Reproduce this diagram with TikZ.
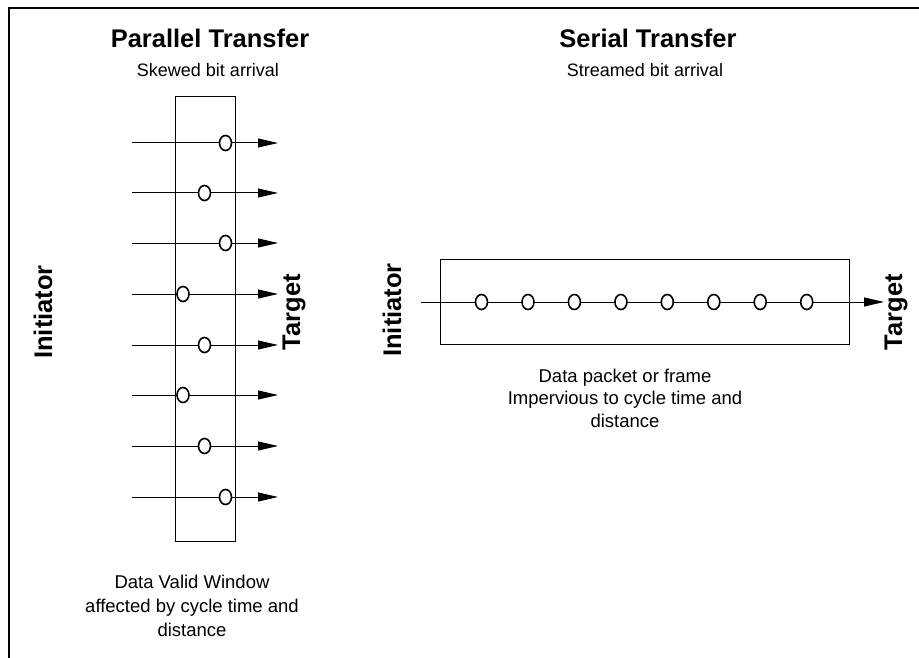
\documentclass[tikz,border=0pt]{standalone}
\usepackage{fontspec}
\setmainfont{Liberation Sans}
\usetikzlibrary{shapes.geometric, arrows.meta, positioning}

\begin{document}
\begin{tikzpicture}[x=1pt, y=-1pt, >={Triangle[length=20pt, width=9pt]},
  sigline/.style = {->, line width=1pt},
  bitdot/.style  = {draw, ellipse, fill=white, line width=1.6pt,
                    minimum width=12pt, minimum height=15pt, inner sep=0pt},
  winbox/.style  = {draw, line width=1pt, inner sep=0pt},
  ttl/.style     = {font=\fontsize{25.5}{30}\selectfont\bfseries, anchor=base},
  sub/.style     = {font=\fontsize{18}{22}\selectfont, anchor=base},
  side/.style    = {font=\fontsize{25.5}{30}\selectfont\bfseries, rotate=90},
  note/.style    = {align=center, anchor=north, inner sep=0pt}
]
  \useasboundingbox (0,0) rectangle (919,658);
  \draw[line width=1.3pt] (9,658) -- (9,8) -- (919,8);

  %% Parallel side
  \node[ttl] (ptitle) at (210,48) {Parallel Transfer};
  \node[sub] (psub)   at (208,77) {Skewed bit arrival};
  \node[winbox, minimum width=60pt, minimum height=444pt] (pwin) at (205,319) {};

  \coordinate (p1a) at (132,143); \coordinate (p1b) at (278,143);
  \coordinate (p2a) at (132,193); \coordinate (p2b) at (278,193);
  \coordinate (p3a) at (132,243); \coordinate (p3b) at (278,243);
  \coordinate (p4a) at (132,294); \coordinate (p4b) at (278,294);
  \coordinate (p5a) at (132,345); \coordinate (p5b) at (278,345);
  \coordinate (p6a) at (132,395); \coordinate (p6b) at (278,395);
  \coordinate (p7a) at (132,446); \coordinate (p7b) at (278,446);
  \coordinate (p8a) at (132,497); \coordinate (p8b) at (278,497);
  \draw[sigline] (p1a) -- (p1b);
  \draw[sigline] (p2a) -- (p2b);
  \draw[sigline] (p3a) -- (p3b);
  \draw[sigline] (p4a) -- (p4b);
  \draw[sigline] (p5a) -- (p5b);
  \draw[sigline] (p6a) -- (p6b);
  \draw[sigline] (p7a) -- (p7b);
  \draw[sigline] (p8a) -- (p8b);

  \node[bitdot] (pb1) at (225.5,143) {};
  \node[bitdot] (pb2) at (204.5,193) {};
  \node[bitdot] (pb3) at (225.5,243) {};
  \node[bitdot] (pb4) at (183,294)   {};
  \node[bitdot] (pb5) at (204.5,345) {};
  \node[bitdot] (pb6) at (183,395)   {};
  \node[bitdot] (pb7) at (204.5,446) {};
  \node[bitdot] (pb8) at (225.5,497) {};

  \node[side] (pinit) at (43,312)  {Initiator};
  \node[side] (ptarg) at (294,312) {Target};

  \node[note, font=\fontsize{18.5}{24}\selectfont] (pnote) at (192,574.5)
    {Data Valid Window\\ affected by cycle time and\\ distance};

  %% Serial side
  \node[ttl] (stitle) at (648,48) {Serial Transfer};
  \node[sub] (ssub)   at (645,77) {Streamed bit arrival};
  \node[winbox, minimum width=409pt, minimum height=85pt] (swin) at (644.5,301.5) {};

  \coordinate (sa) at (421,302); \coordinate (sb) at (884,302);
  \draw[sigline] (sa) -- (sb);

  \node[bitdot] (sb1) at (481.5,302) {};
  \node[bitdot] (sb2) at (528.0,302) {};
  \node[bitdot] (sb3) at (574.4,302) {};
  \node[bitdot] (sb4) at (620.9,302) {};
  \node[bitdot] (sb5) at (667.3,302) {};
  \node[bitdot] (sb6) at (713.8,302) {};
  \node[bitdot] (sb7) at (760.2,302) {};
  \node[bitdot] (sb8) at (806.7,302) {};

  \node[side] (sinit) at (392,310) {Initiator};
  \node[side] (starg) at (896,312) {Target};

  \node[note, font=\fontsize{18.5}{22.5}\selectfont] (snote) at (625,368.5)
    {Data packet or frame\\ Impervious to cycle time and\\ distance};
\end{tikzpicture}
\end{document}
